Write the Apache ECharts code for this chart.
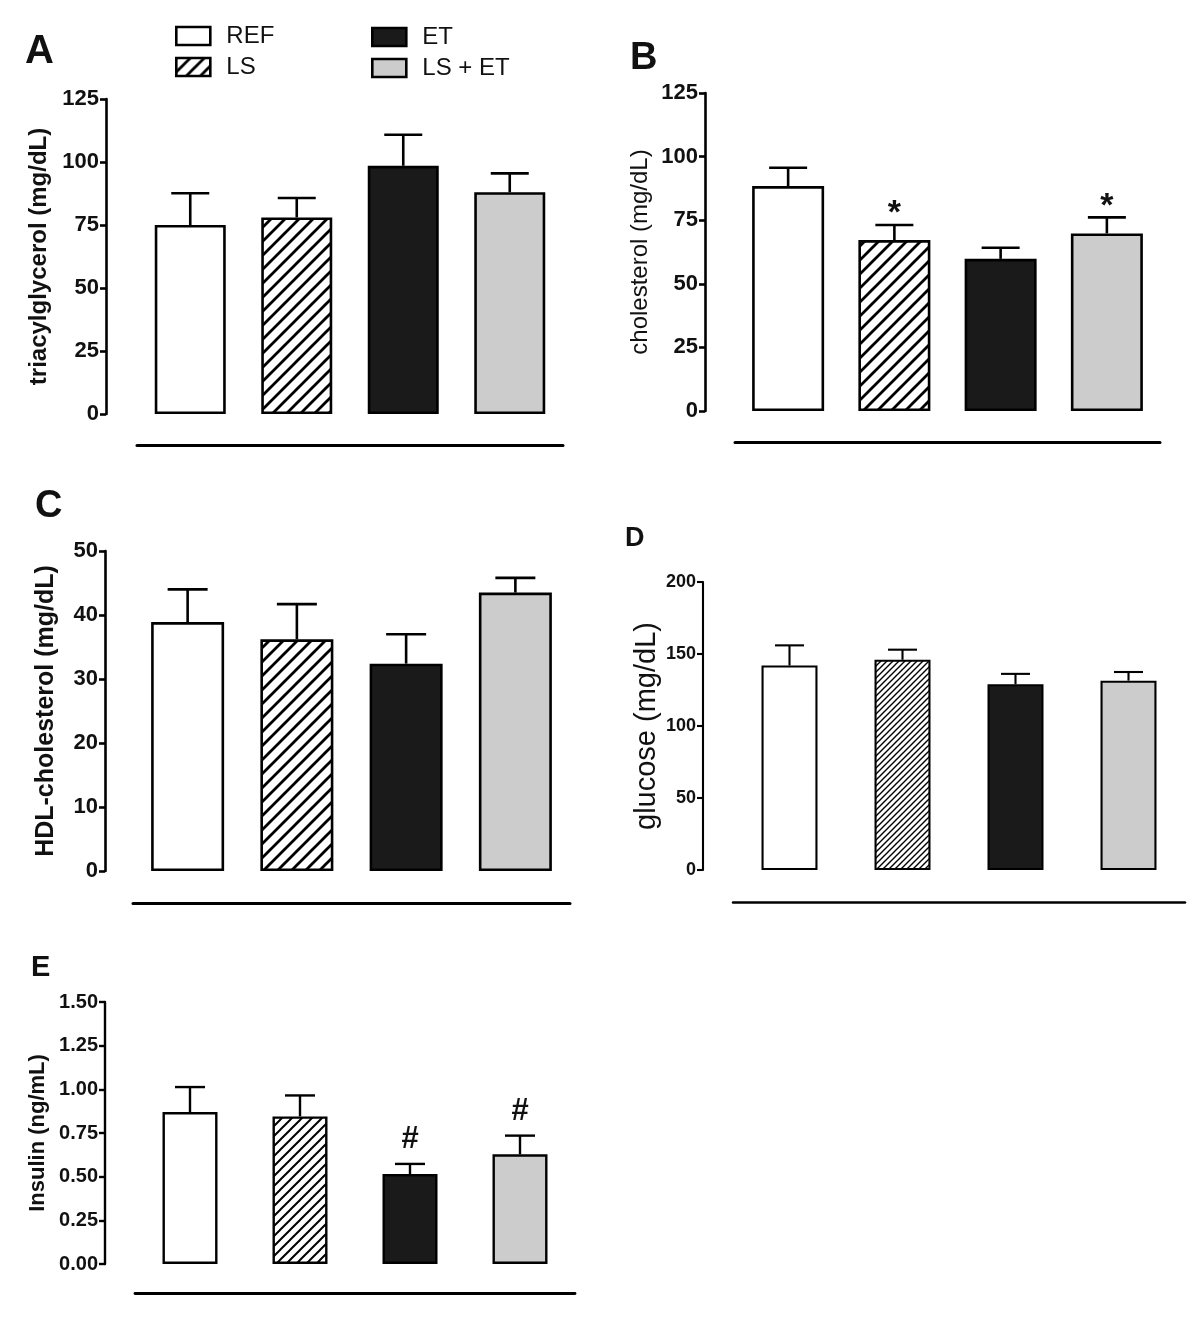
<!DOCTYPE html>
<html>
<head>
<meta charset="utf-8">
<script src="https://cdn.jsdelivr.net/npm/echarts@6/dist/echarts.min.js"></script>
<style>html,body{margin:0;padding:0;background:#fff}#c{width:1200px;height:1322px}</style>
</head>
<body>
<div id="c"></div>
<script>
// ---- data ----
const categories = ['REF', 'LS', 'ET', 'LS + ET'];
const panelLetters = ['A', 'B', 'C', 'D', 'E'];

const tagMean = [75, 78, 98.5, 88];
const tagSem  = [12.6, 7.7, 12.3, 7.5];

const cholMean = [88.4, 67.2, 59.8, 69.8];
const cholSem  = [7.2, 5.9, 4.4, 6.3];
const cholSig  = ['', '*', '', '*'];

const hdlMean = [38.9, 36.2, 32.4, 43.5];
const hdlSem  = [5.1, 5.5, 4.6, 2.3];

const gluMean = [142, 146, 129, 131.5];
const gluSem  = [14, 7, 7.2, 6];

const insMean = [0.87, 0.845, 0.515, 0.628];
const insSem  = [0.143, 0.12, 0.058, 0.107];
const insSig  = ['', '', '#', '#'];

const axisA = {max: 125, interval: 25};
const axisB = {max: 125, interval: 25};
const axisC = {max: 50, interval: 10};
const axisD = {max: 200, interval: 50};
const axisE = {max: 1.5, interval: 0.25};

// ---- styling helpers ----
const FONT = 'Liberation Sans, Arial, Helvetica, sans-serif';
function hatch(s, lw) {
  const c = document.createElement('canvas');
  c.width = s; c.height = s;
  const g = c.getContext('2d');
  g.fillStyle = '#fff'; g.fillRect(0, 0, s, s);
  g.strokeStyle = '#000'; g.lineWidth = lw; g.lineCap = 'square';
  g.beginPath();
  g.moveTo(0, s); g.lineTo(s, 0);
  g.moveTo(-s / 2, s / 2); g.lineTo(s / 2, -s / 2);
  g.moveTo(s / 2, s * 1.5); g.lineTo(s * 1.5, s / 2);
  g.stroke();
  return {image: c, repeat: 'repeat'};
}

const panels = [
  {mean: tagMean, sem: tagSem, sig: null, ax: axisA, grid: {left: 137, top: 99, width: 426, height: 315},
   yOff: 31, xOff: 31, barW: 71, capW: 38, lw: 2.6, tickFs: 22, name: 'triacylglycerol (mg/dL)', nameBold: true, nameFs: 24, nameGap: 55, hatch: hatch(14, 2.8)},
  {mean: cholMean, sem: cholSem, sig: cholSig, ax: axisB, grid: {left: 735, top: 93, width: 425, height: 318},
   yOff: 30, xOff: 31, barW: 72, capW: 38, lw: 2.6, tickFs: 22, name: 'cholesterol (mg/dL)', nameBold: false, nameFs: 24, nameGap: 53, hatch: hatch(14, 2.8), sigFs: 34},
  {mean: hdlMean, sem: hdlSem, sig: null, ax: axisC, grid: {left: 133, top: 551, width: 437, height: 320},
   yOff: 28, xOff: 32, barW: 73, capW: 40, lw: 2.6, tickFs: 22, name: 'HDL-cholesterol (mg/dL)', nameBold: true, nameFs: 25, nameGap: 46, hatch: hatch(14, 2.8)},
  {mean: gluMean, sem: gluSem, sig: null, ax: axisD, grid: {left: 733, top: 582, width: 452, height: 288},
   yOff: 30, xOff: 32, barW: 56, capW: 29, lw: 2.1, tickFs: 18, name: 'glucose (mg/dL)', nameBold: false, nameFs: 29, nameGap: 42, hatch: hatch(6, 1.4)},
  {mean: insMean, sem: insSem, sig: insSig, ax: axisE, grid: {left: 135, top: 1002, width: 440, height: 262},
   yOff: 30, xOff: 29, barW: 55, capW: 30, lw: 2.4, tickFs: 20, name: 'Insulin (ng/mL)', nameBold: true, nameFs: 22, nameGap: 56, hatch: hatch(10, 2), sigFs: 31, fmt: v => v.toFixed(2)}
];

const groupColors = ['#ffffff', null, '#1a1a1a', '#cccccc'];

const grids = [], xAxes = [], yAxes = [], series = [];
panels.forEach((p, gi) => {
  grids.push(Object.assign({containLabel: false}, p.grid));
  xAxes.push({
    type: 'category', gridIndex: gi, data: categories, offset: p.xOff, position: 'bottom',
    axisLine: {show: true, onZero: false, lineStyle: {color: '#000', width: p.lw + 0.4}},
    axisTick: {show: false}, axisLabel: {show: false}, splitLine: {show: false}
  });
  yAxes.push({
    type: 'value', gridIndex: gi, min: 0, max: p.ax.max, interval: p.ax.interval, offset: p.yOff,
    name: p.name, nameLocation: 'middle', nameGap: p.nameGap,
    nameTextStyle: {fontFamily: FONT, fontSize: p.nameFs, fontWeight: p.nameBold ? 'bold' : 'normal', color: '#111'},
    axisLine: {show: true, onZero: false, lineStyle: {color: '#000', width: p.lw}},
    axisTick: {show: true, length: 6, lineStyle: {color: '#000', width: p.lw}},
    axisLabel: {margin: 7, fontFamily: FONT, fontSize: p.tickFs, fontWeight: 'bold', color: '#111',
      formatter: p.fmt ? p.fmt : (v => String(v))},
    splitLine: {show: false}
  });
  categories.forEach((cat, k) => {
    series.push({
      type: 'bar', name: cat, xAxisIndex: gi, yAxisIndex: gi,
      data: p.mean.map((v, j) => (j === k ? v : '-')),
      barWidth: p.barW, barGap: '-100%',
      itemStyle: {color: k === 1 ? p.hatch : groupColors[k], borderColor: '#000', borderWidth: p.lw},
      emphasis: {disabled: true}, z: 2
    });
  });
  const sig = p.sig;
  series.push({
    type: 'custom', name: 'err' + gi, xAxisIndex: gi, yAxisIndex: gi, z: 3,
    data: p.mean.map((v, j) => [j, v, p.sem[j]]),
    encode: {x: 0, y: 1},
    renderItem: function (params, api) {
      const i = api.value(0), m = api.value(1), e = api.value(2);
      const base = api.coord([i, m]);
      const top = api.coord([i, m + e]);
      const ls = {stroke: '#000', lineWidth: p.lw};
      const children = [
        {type: 'line', shape: {x1: base[0], y1: base[1], x2: top[0], y2: top[1]}, style: ls},
        {type: 'line', shape: {x1: top[0] - p.capW / 2, y1: top[1], x2: top[0] + p.capW / 2, y2: top[1]}, style: ls}
      ];
      const s = sig ? sig[params.dataIndex] : '';
      if (s) {
        const dy = s === '*' ? 11 : 24;
        children.push({type: 'text', style: {text: s, x: top[0], y: top[1] - dy, align: 'center', verticalAlign: 'middle',
          font: 'bold ' + p.sigFs + 'px ' + FONT, fill: '#111'}});
      }
      return {type: 'group', children: children};
    }
  });
});

const letterPos = [
  {left: 25, top: 32, fs: 40}, {left: 630, top: 40, fs: 38}, {left: 35, top: 488, fs: 38},
  {left: 625, top: 525, fs: 27}, {left: 31, top: 953, fs: 29}
];
const titles = panelLetters.map((t, i) => ({
  text: t, left: letterPos[i].left, top: letterPos[i].top, padding: 0,
  textStyle: {fontFamily: FONT, fontSize: letterPos[i].fs, fontWeight: 'bold', color: '#111'}
}));

const legendBase = {
  orient: 'vertical', itemWidth: 34, itemHeight: 18, itemGap: 7, padding: 0, icon: 'rect',
  selectedMode: false,
  itemStyle: {borderColor: '#000', borderWidth: 2.6},
  textStyle: {fontFamily: FONT, fontSize: 24, color: '#111', padding: [0, 0, 0, 11]}
};

const chart = echarts.init(document.getElementById('c'), null, {renderer: 'canvas'});
chart.setOption({
  backgroundColor: '#fff',
  animation: false,
  title: titles,
  legend: [
    Object.assign({}, legendBase, {left: 175, top: 24, data: ['REF', 'LS']}),
    Object.assign({}, legendBase, {left: 371, top: 25, data: ['ET', 'LS + ET']})
  ],
  grid: grids,
  xAxis: xAxes,
  yAxis: yAxes,
  series: series
});
</script>
</body>
</html>
